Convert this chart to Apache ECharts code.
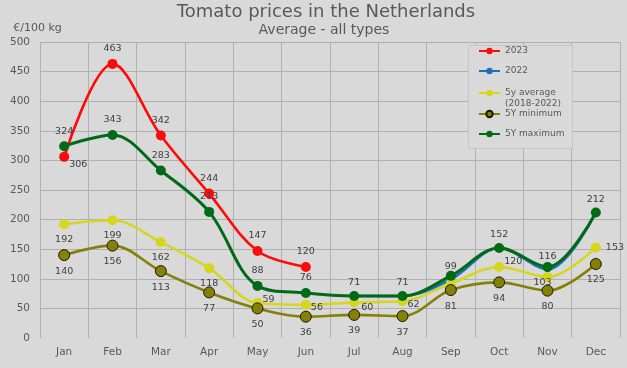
<!DOCTYPE html>
<html>
<head>
<meta charset="utf-8">
<script src="https://cdn.jsdelivr.net/npm/echarts@6/dist/echarts.min.js"></script>
<style>html,body{margin:0;padding:0;background:#d9d9d9;}#c{width:627px;height:368px;}</style>
</head>
<body>
<div id="c"></div>
<script>
const months = ['Jan','Feb','Mar','Apr','May','Jun','Jul','Aug','Sep','Oct','Nov','Dec'];
const yTicks = [0,50,100,150,200,250,300,350,400,450,500];
const s2023 = [306,463,342,244,147,120,null,null,null,null,null,null];
const s2022 = [null,null,null,null,null,null,71,71,99,152,116,212];
const sAvg = [192,199,162,118,59,56,60,62,92,120,103,153];
const sMin = [140,156,113,77,50,36,39,37,81,94,80,125];
const sMax = [324,343,283,213,88,76,71,71,105,152,120,212];

const FONT = 'DejaVu Sans';
const TXT = '#595959';
const LBL = '#404040';

// label placement per point (styling only)
const T = {position:'top'}, B = {position:'bottom'}, H = null;
const R = (dy, d) => ({position:'right', distance: d||0, offset:[0, dy]});
const lab2023 = [{position:'right', distance:0, offset:[0,8]}, T, T, T, T, T, H,H,H,H,H,H];
const lab2022 = [H,H,H,H,H,H, T, T, T, T, T, T];
const labAvg = [B, B, B, B, R(-4), R(3), R(5,2), R(3), H, R(-5), {position:'bottom', distance:-4, offset:[-5,0]}, R(0,5)];
const labMin = [B,B,B,B,B,B,B,B,B,B,B,B];
const labMax = [T,T,T,T,T,T,H,H,H,H,H,H];

function mk(values, labs) {
  return values.map((v, i) => {
    const l = labs[i];
    if (v == null) return null;
    if (!l) return {value: v, label: {show: false}};
    return {value: v, label: Object.assign({show: true}, l)};
  });
}

const labelBase = {show: true, fontFamily: FONT, fontSize: 9.5, color: LBL, formatter: p => p.value};

function series(name, values, labs, color, opts) {
  return Object.assign({
    name: name,
    type: 'line',
    data: mk(values, labs),
    smooth: 0.35,
    symbol: 'circle',
    symbolSize: 10,
    connectNulls: false,
    lineStyle: {color: color, width: 2.6},
    itemStyle: {color: color},
    label: labelBase,
    emphasis: {disabled: true},
    animation: false
  }, opts || {});
}

const legendBase = {
  orient: 'vertical', left: 478, padding: 0, itemWidth: 21, itemHeight: 8, z: 20,
  textStyle: {fontFamily: FONT, fontSize: 9, color: TXT, lineHeight: 12},
  selectedMode: false
};

const chart = echarts.init(document.getElementById('c'), null, {renderer: 'canvas'});
chart.setOption({
  backgroundColor: '#d9d9d9',
  animation: false,
  title: [
    {text: 'Tomato prices in the Netherlands', left: 326, top: 3, padding: 0, textAlign: 'center',
     textStyle: {fontFamily: FONT, fontSize: 18, fontWeight: 'normal', color: TXT}},
    {text: 'Average - all types', left: 324, top: 23, padding: 0, textAlign: 'center',
     textStyle: {fontFamily: FONT, fontSize: 14, fontWeight: 'normal', color: TXT}}
  ],
  grid: {left: 40, right: 7, top: 42, bottom: 30},
  xAxis: {
    type: 'category', data: months, boundaryGap: true,
    axisLine: {show: false}, axisTick: {show: false},
    axisLabel: {fontFamily: FONT, fontSize: 10.5, color: TXT, margin: 9},
    splitLine: {show: true, lineStyle: {color: '#b0b0b0', width: 1}}
  },
  yAxis: {
    type: 'value', min: yTicks[0], max: yTicks[yTicks.length-1], interval: 50,
    name: '€/100 kg', nameLocation: 'end', nameGap: 8,
    nameTextStyle: {fontFamily: FONT, fontSize: 11, color: TXT, padding: [0, 5, 0, 0]},
    axisLine: {show: false}, axisTick: {show: false},
    axisLabel: {fontFamily: FONT, fontSize: 10.5, color: TXT, margin: 10},
    splitLine: {show: true, showMinLine: false, lineStyle: {color: '#b0b0b0', width: 1}}
  },
  graphic: [{
    type: 'rect', z: 10, shape: {x: 468.5, y: 45.5, width: 104, height: 103},
    style: {fill: '#d9d9d9', stroke: '#c6c6c6', lineWidth: 1}
  }],
  legend: [
    Object.assign({}, legendBase, {top: 45, data: ['2023']}),
    Object.assign({}, legendBase, {top: 65, data: ['2022']}),
    Object.assign({}, legendBase, {top: 76.5, data: ['5y average (2018-2022)'],
      formatter: () => ' \n5y average\n(2018-2022)',
      textStyle: {fontFamily: FONT, fontSize: 9, color: TXT, lineHeight: 11}}),
    Object.assign({}, legendBase, {top: 108, data: ['5Y minimum']}),
    Object.assign({}, legendBase, {top: 128, data: ['5Y maximum']})
  ],
  series: [
    series('2023', s2023, lab2023, '#ff0a0a'),
    series('2022', s2022, lab2022, '#1f6fc0', {symbolSize: 6}),
    series('5y average (2018-2022)', sAvg, labAvg, '#d6d620'),
    series('5Y minimum', sMin, labMin, '#858008', {itemStyle: {color: '#858008', borderColor: '#1a1a00', borderWidth: 1}, symbolSize: 11}),
    series('5Y maximum', sMax, labMax, '#006a17', {lineStyle: {color: '#006a17', width: 3}})
  ]
});
</script>
</body>
</html>
